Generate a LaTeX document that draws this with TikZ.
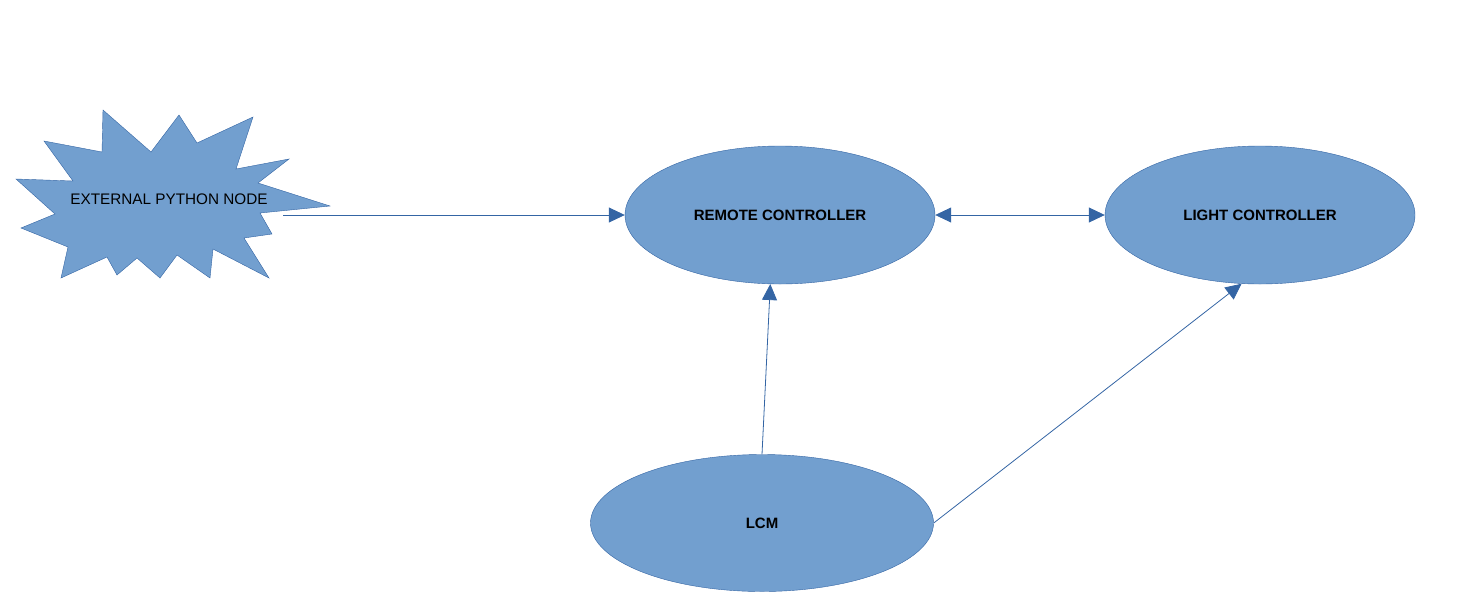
\documentclass[tikz,border=0pt]{standalone}
\usepackage{fontspec}
\setmainfont{Liberation Sans}
\usetikzlibrary{arrows.meta}
\usetikzlibrary{shapes.geometric}

\definecolor{fillblue}{HTML}{729FCF}
\definecolor{lineblue}{HTML}{3465A4}

\begin{document}
\begin{tikzpicture}[x=1pt, y=-1pt,
    ctrl/.style={ellipse, draw=lineblue, fill=fillblue, inner sep=0pt,
      minimum width=310pt, minimum height=138pt,
      font=\fontsize{15}{18}\selectfont\bfseries},
    burst/.style={draw=lineblue, fill=fillblue, line join=miter},
    link/.style={draw=lineblue, line width=0.8pt,
      -{Triangle[length=16pt,width=15pt]}},
    biglink/.style={link, {Triangle[length=16pt,width=15pt]}-{Triangle[length=16pt,width=15pt]}}]
      \useasboundingbox (0,0) rectangle (1474,595);

      % starburst
      \draw[burst] (103,110) -- (151,152) -- (179,115) -- (197,143) -- (253,117)
        -- (236,169) -- (289,159) -- (258,183) -- (330,206) -- (260,213)
        -- (272,234) -- (244,238) -- (269,278) -- (213,249) -- (210,278)
        -- (177,255) -- (160,278) -- (137,258) -- (117,275) -- (107,257)
        -- (61,278) -- (68,247) -- (21,228) -- (55,214) -- (16,179)
        -- (73,181) -- (44,141) -- (102,152) -- cycle;
      \node[font=\fontsize{15.3}{18}\selectfont] (ext) at (169,199) {EXTERNAL PYTHON NODE};
      \coordinate (extout) at (283,215);

      \node[ctrl] (rc)  at (780,215)  {REMOTE CONTROLLER};
      \node[ctrl] (lc)  at (1260,215) {LIGHT CONTROLLER};
      \node[ctrl, minimum width=343pt, minimum height=137pt] (lcm) at (762,523) {LCM};

      \draw[link] (extout) -- (rc.west);
      \draw[biglink] (rc.east) -- (lc.west);
      \draw[link] (lcm.north) -- (rc.-98);
      \draw[link] (lcm.east) -- (lc.-105);
    \end{tikzpicture}
\end{document}
